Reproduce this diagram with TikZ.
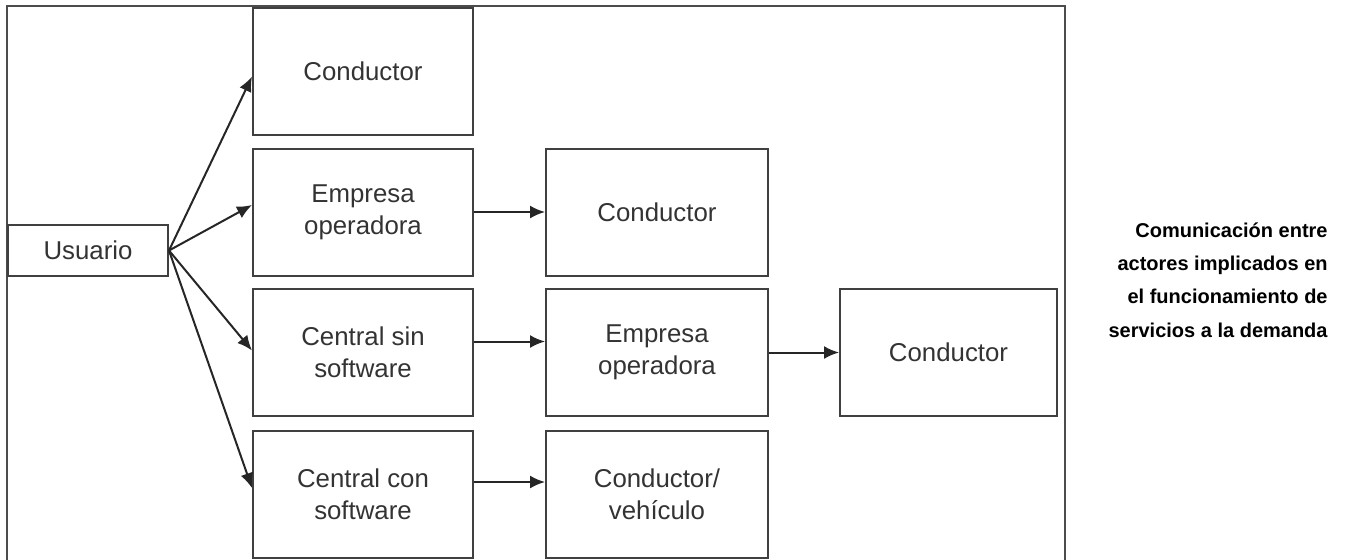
\documentclass[tikz,border=0pt]{standalone}
\usepackage{fontspec}
\setmainfont{Liberation Sans}
\usetikzlibrary{arrows.meta}

\begin{document}
\begin{tikzpicture}[x=0.5pt,y=-0.5pt,
  box/.style={draw=black!75,line width=1pt,minimum width=110pt,minimum height=63.5pt,
    inner sep=0pt,align=center,text=black!80,font=\fontsize{12.9}{16}\selectfont},
  link/.style={draw=black!85,line width=1pt,-{Latex[length=7.5pt,width=6.5pt]}}]

\useasboundingbox (0,0) rectangle (1349,559);

% frame
\draw[black!70,line width=1.2pt] (7,560) -- (7,6) -- (1065,6) -- (1065,560);

% user
\node[box,minimum width=80pt,minimum height=25.5pt] (usuario) at (88,250.5) {Usuario};

% first column
\node[box] (cond1) at (363,71.5) {Conductor};
\node[box] (emp1) at (363,212) {Empresa\\operadora};
\node[box] (csin) at (363,352.5) {Central sin\\software};
\node[box] (ccon) at (363,494) {Central con\\software};

% second column
\node[box,minimum width=111pt] (cond2) at (657,212) {Conductor};
\node[box,minimum width=111pt] (emp2) at (657,352.5) {Empresa\\operadora};
\node[box,minimum width=111pt] (condveh) at (657,494) {Conductor/\\vehículo};

% third column
\node[box,minimum width=108.5pt] (cond3) at (948.5,352.5) {Conductor};

% arrows from the user
\draw[link] (usuario.east) -- ([yshift=-2.5pt]cond1.west);
\draw[link] (usuario.east) -- ([yshift=3.5pt]emp1.west);
\draw[link] (usuario.east) -- ([yshift=1pt]csin.west);
\draw[link] (usuario.east) -- ([yshift=3pt]ccon.west);

% arrows between columns
\draw[link] (emp1.east) -- (cond2.west);
\draw[link] ([yshift=5.5pt]csin.east) -- ([yshift=5.5pt]emp2.west);
\draw[link] (emp2.east) -- (cond3.west);
\draw[link] ([yshift=6pt]ccon.east) -- ([yshift=6pt]condveh.west);

% caption
\node[anchor=east,align=right,inner sep=0pt,font=\fontsize{10}{16.6}\selectfont\bfseries] (caption) at (1328,280)
  {Comunicación entre\\actores implicados en\\el funcionamiento de\\servicios a la demanda};

\end{tikzpicture}
\end{document}
